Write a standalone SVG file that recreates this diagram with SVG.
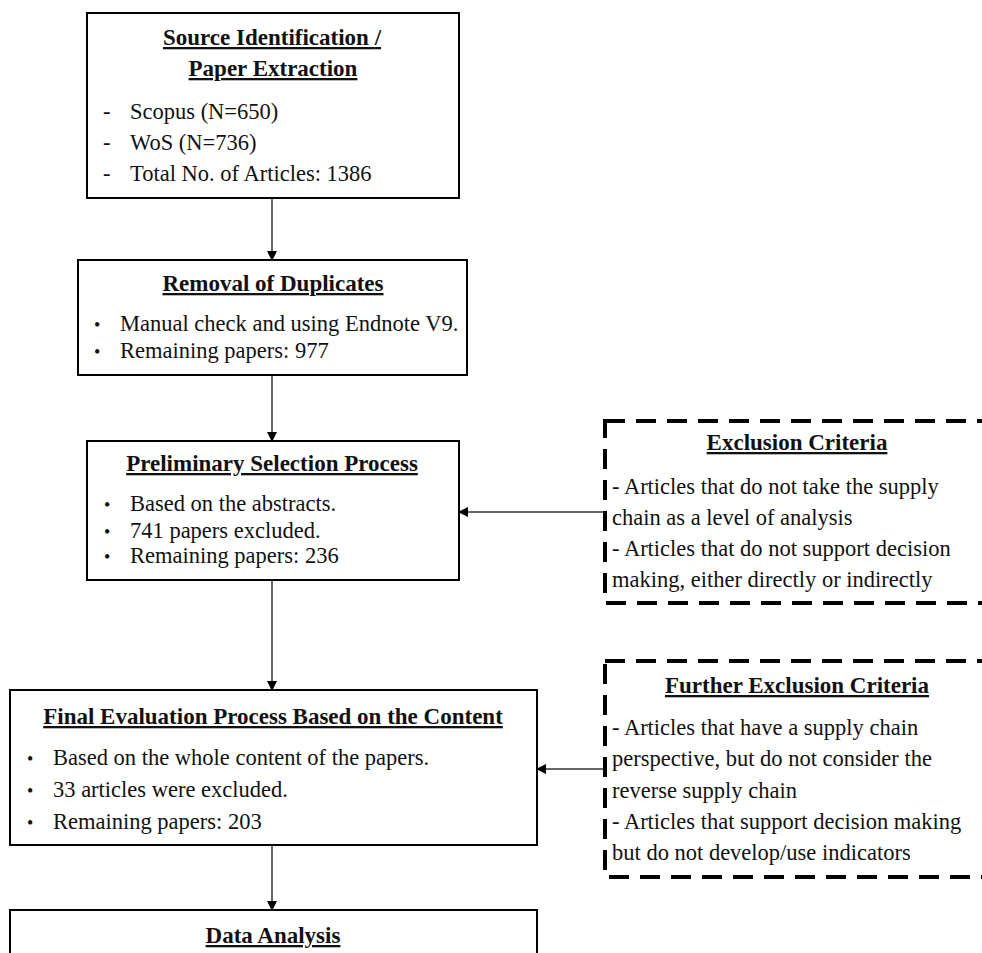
<svg xmlns="http://www.w3.org/2000/svg" width="982" height="953" viewBox="0 0 982 953">
  <defs>
    <marker id="arrow" markerWidth="10" markerHeight="10" refX="9" refY="5" orient="auto" markerUnits="userSpaceOnUse">
      <path d="M0,0 L10,5 L0,10 Z" fill="#000"/>
    </marker>
    <style>
      .box { fill: #fff; stroke: #000; stroke-width: 2; }
      .dash { fill: #fff; stroke: #000; stroke-width: 4; stroke-dasharray: 20 11; }
      .title { font-family: "Liberation Serif", "DejaVu Serif", serif; font-size: 23px; font-weight: bold; text-decoration: underline; fill: #111; text-anchor: middle; }
      .txt { font-family: "Liberation Serif", "DejaVu Serif", serif; font-size: 22.5px; fill: #111; }
      .bul { font-family: "Liberation Serif", "DejaVu Serif", serif; font-size: 18px; fill: #111; }
      .conn { stroke: #333; stroke-width: 1.5; fill: none; }
    </style>
  </defs>
  <rect width="982" height="953" fill="#fff"/>

  <!-- connectors -->
  <g id="connectors">
    <line class="conn" x1="272" y1="198" x2="272" y2="260" marker-end="url(#arrow)"/>
    <line class="conn" x1="272" y1="375" x2="272" y2="441" marker-end="url(#arrow)"/>
    <line class="conn" x1="272" y1="580" x2="272" y2="690" marker-end="url(#arrow)"/>
    <line class="conn" x1="272" y1="845" x2="272" y2="910" marker-end="url(#arrow)"/>
    <line class="conn" x1="605" y1="512" x2="459" y2="512" marker-end="url(#arrow)"/>
    <line class="conn" x1="605" y1="769" x2="537" y2="769" marker-end="url(#arrow)"/>
  </g>

  <!-- Source identification -->
  <g id="source">
    <rect class="box" x="87" y="13" width="372" height="185"/>
    <text class="title" x="272" y="45">Source Identification <tspan text-decoration="none">/</tspan></text>
    <text class="title" x="273" y="76">Paper Extraction</text>
    <text class="txt" x="103" y="119">-</text><text class="txt" x="130" y="119">Scopus (N=650)</text>
    <text class="txt" x="103" y="150">-</text><text class="txt" x="130" y="150">WoS (N=736)</text>
    <text class="txt" x="103" y="181">-</text><text class="txt" x="130" y="181">Total No. of Articles: 1386</text>
  </g>

  <!-- Removal of duplicates -->
  <g id="duplicates">
    <rect class="box" x="78" y="260" width="389" height="115"/>
    <text class="title" x="273" y="291">Removal of Duplicates</text>
    <text class="bul" x="94" y="331">•</text><text class="txt" x="120" y="331">Manual check and using Endnote V9.</text>
    <text class="bul" x="94" y="358">•</text><text class="txt" x="120" y="358">Remaining papers: 977</text>
  </g>

  <!-- Preliminary selection -->
  <g id="preliminary">
    <rect class="box" x="87" y="441" width="372" height="139"/>
    <text class="title" x="272" y="471">Preliminary Selection Process</text>
    <text class="bul" x="104" y="511">•</text><text class="txt" x="130" y="511">Based on the abstracts.</text>
    <text class="bul" x="104" y="538">•</text><text class="txt" x="130" y="538">741 papers excluded.</text>
    <text class="bul" x="104" y="563">•</text><text class="txt" x="130" y="563">Remaining papers: 236</text>
  </g>

  <!-- Final evaluation -->
  <g id="final">
    <rect class="box" x="10" y="690" width="527" height="155"/>
    <text class="title" x="273" y="724">Final Evaluation Process Based on the Content</text>
    <text class="bul" x="27" y="765">•</text><text class="txt" x="53" y="765">Based on the whole content of the papers.</text>
    <text class="bul" x="27" y="797">•</text><text class="txt" x="53" y="797">33 articles were excluded.</text>
    <text class="bul" x="27" y="829">•</text><text class="txt" x="53" y="829">Remaining papers: 203</text>
  </g>

  <!-- Data analysis -->
  <g id="analysis">
    <rect class="box" x="10" y="910" width="527" height="60"/>
    <text class="title" x="273" y="943">Data Analysis</text>
  </g>

  <!-- Exclusion criteria -->
  <g id="exclusion">
    <rect class="dash" x="605" y="421" width="400" height="182"/>
    <text class="title" x="797" y="450">Exclusion Criteria</text>
    <text class="txt" x="612" y="494">- Articles that do not take the supply</text>
    <text class="txt" x="612" y="525">chain as a level of analysis</text>
    <text class="txt" x="612" y="556">- Articles that do not support decision</text>
    <text class="txt" x="612" y="587">making, either directly or indirectly</text>
  </g>

  <!-- Further exclusion criteria -->
  <g id="further">
    <rect class="dash" x="605" y="661" width="400" height="216"/>
    <text class="title" x="797" y="693">Further Exclusion Criteria</text>
    <text class="txt" x="612" y="735">- Articles that have a supply chain</text>
    <text class="txt" x="612" y="766">perspective, but do not consider the</text>
    <text class="txt" x="612" y="798">reverse supply chain</text>
    <text class="txt" x="612" y="829">- Articles that support decision making</text>
    <text class="txt" x="612" y="860">but do not develop/use indicators</text>
  </g>
</svg>
